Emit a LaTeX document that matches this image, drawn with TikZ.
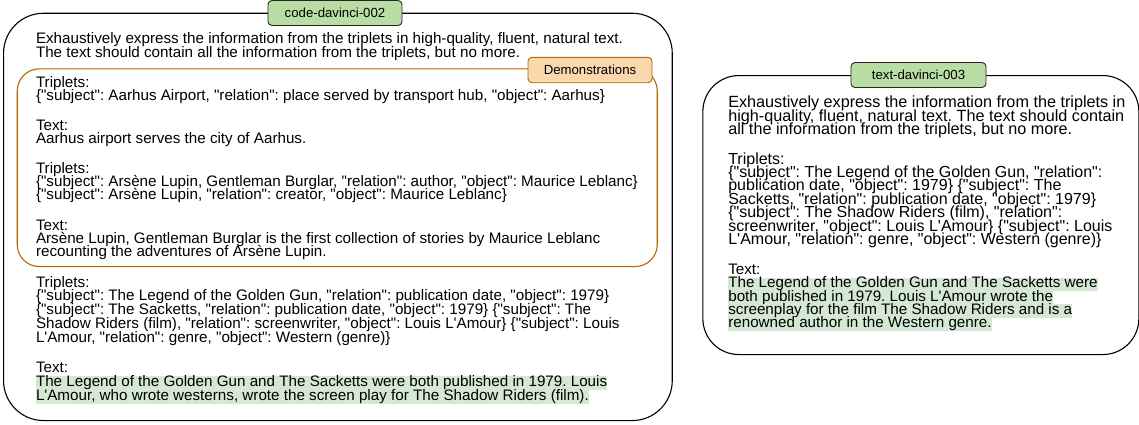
\documentclass[tikz,border=0pt]{standalone}
\usepackage{fontspec}
\setmainfont{Liberation Sans}[Ligatures=TeXOff]
\frenchspacing
\lineskiplimit=-100pt
\definecolor{hlgreen}{RGB}{213,232,212}
\definecolor{lblgreen}{RGB}{185,222,165}
\definecolor{lblorange}{RGB}{250,215,172}
\definecolor{demoline}{RGB}{180,101,4}
\newcommand\hlline[1]{{\setlength{\fboxsep}{0pt}\colorbox{hlgreen}{\rule[-3.3pt]{0pt}{13.3pt}\smash{#1}}}}
\newcommand\hllineb[1]{{\setlength{\fboxsep}{0pt}\colorbox{hlgreen}{\rule[-3.3pt]{0pt}{13.8pt}\smash{#1}}}}
\newcommand\mystrut{\rule[-3.3pt]{0pt}{15.3pt}}
\tikzset{
  txt/.style={anchor=north west, inner sep=0pt, outer sep=0pt, align=left},
  fb/.style={font=\fontsize{15.2}{13.3}\selectfont},
  fq/.style={font=\fontsize{15.2}{13.8}\selectfont},
  fc/.style={font=\fontsize{16.2}{13.3}\selectfont},
  fd/.style={font=\fontsize{16.0}{13.4}\selectfont},
  fe/.style={font=\fontsize{15.2}{13.3}\selectfont},
  bigbox/.style={draw=black, line width=1.1pt, anchor=north west, inner sep=0pt},
  lbl/.style={draw=black!85, line width=0.9pt, rounded corners=4pt, inner sep=0pt,
    font=\fontsize{13.2}{14}\selectfont},
}
\begin{document}
\begin{tikzpicture}[x=1pt,y=-1pt]
\useasboundingbox (0,0) rectangle (1139,424);
% left panel
\node[bigbox, rounded corners=40pt, minimum width=668.7pt, minimum height=407.3pt] (codebox) at (3,12.7) {};
\node[draw=demoline, line width=1.1pt, rounded corners=22pt, anchor=north west, inner sep=0pt,
  minimum width=640pt, minimum height=197.7pt] (demobox) at (16.7,68.3) {};
\node[lbl, fill=lblgreen, minimum width=134pt, minimum height=25pt] (codelbl) at (335,13) {code-davinci-002};
\node[lbl, draw=demoline, fill=lblorange, minimum width=124pt, minimum height=25.4pt] (demolbl) at (590,70) {Demonstrations};
\node[txt, fb] (instrL) at (36,31.7) {\mystrut Exhaustively express the information from the triplets in high-quality, fluent, natural text.\\
\mystrut The text should contain all the information from the triplets, but no more.};
\node[txt, fb] (d1) at (36,75.3) {\mystrut Triplets:\\
\mystrut \{"subject": Aarhus Airport, "relation": place served by transport hub, "object": Aarhus\}};
\node[txt, fb] (d2) at (36,118.3) {\mystrut Text:\\
\mystrut Aarhus airport serves the city of Aarhus.};
\node[txt, fb] (d3) at (36,161.3) {\mystrut Triplets:\\
\mystrut \{"subject": Arsène Lupin, Gentleman Burglar, "relation": author, "object": Maurice Leblanc\}\\
\mystrut \{"subject": Arsène Lupin, "relation": creator, "object": Maurice Leblanc\}};
\node[txt, fb] (d4) at (36,218) {\mystrut Text:\\
\mystrut Arsène Lupin, Gentleman Burglar is the first collection of stories by Maurice Leblanc\\
\mystrut recounting the adventures of Arsène Lupin.};
\node[txt, fq] (q1) at (36,275) {\mystrut Triplets:\\
\mystrut \{"subject": The Legend of the Golden Gun, "relation": publication date, "object": 1979\}\\
\mystrut \{"subject": The Sacketts, "relation": publication date, "object": 1979\} \{"subject": The\\
\mystrut Shadow Riders (film), "relation": screenwriter, "object": Louis L'Amour\} \{"subject": Louis\\
\mystrut L'Amour, "relation": genre, "object": Western (genre)\}};
\node[txt, fq] (q2) at (36,360.7) {\mystrut Text:\\
\hllineb{The Legend of the Golden Gun and The Sacketts were both published in 1979. Louis}\\
\hllineb{L'Amour, who wrote westerns, wrote the screen play for The Shadow Riders (film).}};
% right panel
\node[bigbox, rounded corners=36pt, minimum width=436pt, minimum height=279pt] (textbox) at (702.3,75) {};
\node[lbl, fill=lblgreen, minimum width=135pt, minimum height=25pt] (textlbl) at (918.5,75) {text-davinci-003};
\node[txt, fc] (instrR) at (728.3,95.7) {\mystrut Exhaustively express the information from the triplets in\\
\mystrut high-quality, fluent, natural text. The text should contain\\
\mystrut all the information from the triplets, but no more.};
\node[txt, fd] (r1) at (728.3,152) {\mystrut Triplets:\\
\mystrut \{"subject": The Legend of the Golden Gun, "relation":\\
\mystrut publication date, "object": 1979\} \{"subject": The\\
\mystrut Sacketts, "relation": publication date, "object": 1979\}\\
\mystrut \{"subject": The Shadow Riders (film), "relation":\\
\mystrut screenwriter, "object": Louis L'Amour\} \{"subject": Louis\\
\mystrut L'Amour, "relation": genre, "object": Western (genre)\}};
\node[txt, fe] (r2) at (728.3,262.4) {\mystrut Text:\\
\hlline{The Legend of the Golden Gun and The Sacketts were}\\
\hlline{both published in 1979. Louis L'Amour wrote the}\\
\hlline{screenplay for the film The Shadow Riders and is a}\\
\hlline{renowned author in the Western genre.}};
\end{tikzpicture}
\end{document}
